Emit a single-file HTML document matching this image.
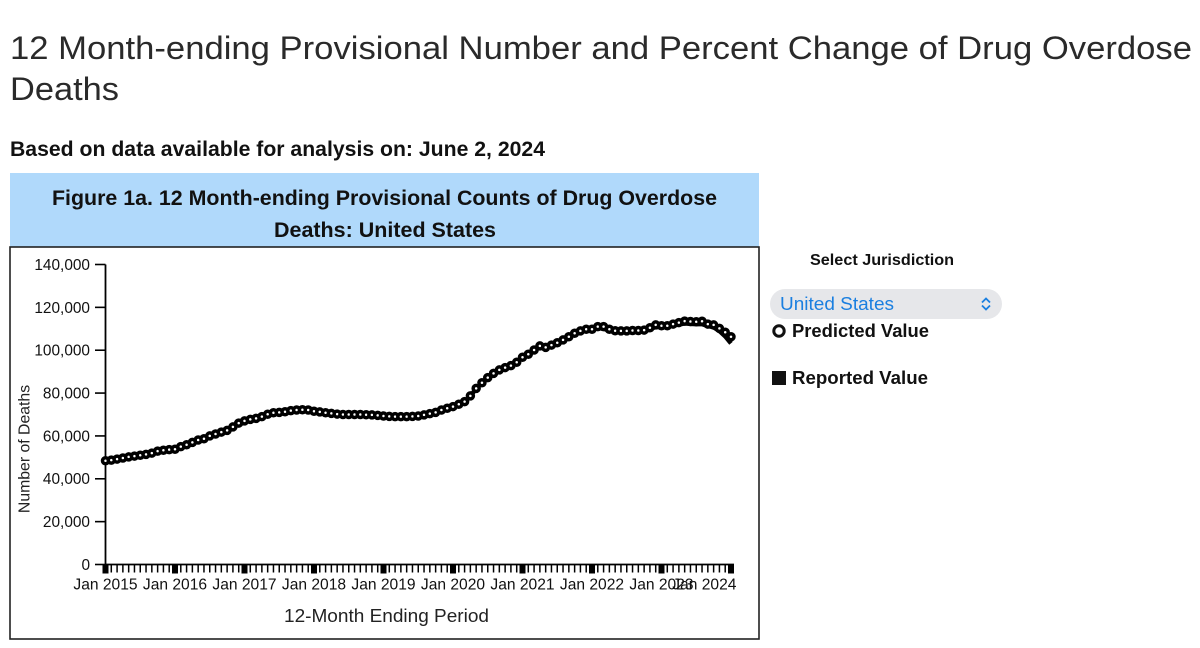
<!DOCTYPE html>
<html lang="en">
<head>
<meta charset="utf-8">
<title>12 Month-ending Provisional Number and Percent Change of Drug Overdose Deaths</title>
<style>
html,body{margin:0;padding:0;background:#fff;width:1200px;height:648px;overflow:hidden}
svg{display:block}
text{font-family:"Liberation Sans",sans-serif}
</style>
</head>
<body>
<svg id="page" width="1200" height="648" viewBox="0 0 1200 648">
  <text x="10" y="59" font-size="32" fill="#2a2a2a" textLength="1182" lengthAdjust="spacingAndGlyphs">12 Month-ending Provisional Number and Percent Change of Drug Overdose</text>
  <text x="10" y="100" font-size="32" fill="#2a2a2a" textLength="109" lengthAdjust="spacingAndGlyphs">Deaths</text>
  <text x="10" y="156" font-size="21" font-weight="700" fill="#111" textLength="535" lengthAdjust="spacingAndGlyphs">Based on data available for analysis on: June 2, 2024</text>

  <rect x="10" y="173" width="749" height="74" fill="#b0d9fb"/>
  <text x="52" y="205" font-size="21" font-weight="700" fill="#111" textLength="665" lengthAdjust="spacingAndGlyphs">Figure 1a. 12 Month-ending Provisional Counts of Drug Overdose</text>
  <text x="274" y="237" font-size="21" font-weight="700" fill="#111" textLength="222" lengthAdjust="spacingAndGlyphs">Deaths: United States</text>

  <rect x="10" y="247" width="749" height="392" fill="#fff" stroke="#222" stroke-width="1.6"/>

  <g id="chart"></g>

  <text transform="translate(29.5,449) rotate(-90)" text-anchor="middle" font-size="15.8" fill="#222">Number of Deaths</text>
  <text x="284" y="622" font-size="18" fill="#222" textLength="205" lengthAdjust="spacingAndGlyphs">12-Month Ending Period</text>

  <text x="810" y="265" font-size="16" font-weight="700" fill="#111" textLength="144" lengthAdjust="spacingAndGlyphs">Select Jurisdiction</text>
  <g>
    <rect x="770" y="289" width="232" height="30" rx="15" fill="#e6e7ea"/>
    <text x="780" y="310" font-size="18" fill="#1a7fe0" textLength="114" lengthAdjust="spacingAndGlyphs">United States</text>
    <path d="M982 302.5 L986 298.5 L990 302.5 M982 305.5 L986 309.5 L990 305.5" fill="none" stroke="#1a7fe0" stroke-width="1.8"/>
  </g>

  <circle cx="779" cy="331" r="5.2" fill="#fff" stroke="#111" stroke-width="3"/>
  <text x="792" y="337" font-size="18" font-weight="700" fill="#111" textLength="137" lengthAdjust="spacingAndGlyphs">Predicted Value</text>
  <rect x="772" y="371" width="14" height="14" fill="#111"/>
  <text x="792" y="384" font-size="18" font-weight="700" fill="#111" textLength="136" lengthAdjust="spacingAndGlyphs">Reported Value</text>
</svg>

<script>
const predictedValues = [
  48400,48700,49200,49700,50200,50600,51000,51400,52000,52900,53300,53600,
  53800,55000,55900,57000,58100,58700,60000,60900,61800,62600,64200,66000,
  67000,67700,68200,69000,70100,70800,71000,71300,71800,72100,72200,72100,
  71500,71200,70800,70500,70200,70000,70000,70000,70000,69900,69800,69600,
  69300,69100,69000,69000,69000,69100,69300,69800,70400,71000,72100,72900,
  73700,74800,76000,78700,82200,84800,87200,89200,90800,91900,92800,94400,
  96700,98100,100100,102000,101300,102400,103500,104800,106300,107900,109000,109800,
  109800,111000,111000,109800,109100,109000,109000,109200,109200,109400,110500,111800,
  111400,111400,112200,112900,113600,113400,113300,113500,112200,111800,110200,108400,
  106300
];
const reportedValues = [
  48300,48600,49100,49600,50100,50500,50900,51300,51900,52800,53200,53500,
  53700,54900,55800,56900,58000,58600,59900,60800,61700,62500,64100,65900,
  66900,67600,68100,68900,70000,70700,70900,71200,71700,72000,72100,72000,
  71400,71100,70700,70400,70100,69900,69900,69900,69900,69800,69700,69500,
  69200,69000,68900,68900,68900,69000,69200,69700,70300,70900,72000,72800,
  73600,74700,75900,78600,82100,84700,87100,89100,90700,91800,92700,94300,
  96600,98000,100000,101900,101200,102300,103400,104700,106200,107800,108900,109700,
  109600,110300,110100,109000,108500,108300,108300,108400,108500,108700,109700,110900,
  110700,110900,111500,112000,112500,112300,112200,112200,111300,110700,109000,106500,
  103200
];
const yTickValues = [0,20000,40000,60000,80000,100000,120000,140000];
const yTickLabels = ["0","20,000","40,000","60,000","80,000","100,000","120,000","140,000"];
const xTickLabels = ["Jan 2015","Jan 2016","Jan 2017","Jan 2018","Jan 2019","Jan 2020","Jan 2021","Jan 2022","Jan 2023","Jan 2024"];
const xTickLabelMonths = [0,12,24,36,48,60,72,84,96,103.4];
const majorTickMonths = [0,12,24,36,48,60,72,84,96,108];

const svgNS = "http://www.w3.org/2000/svg";
const chart = document.getElementById("chart");
const monthCount = predictedValues.length;
const xScale = m => 105.5 + m * (731 - 105.5) / (monthCount - 1);
const yScale = v => 564.5 - v * (300 / 140000);

function make(tag, attrs) {
  const el = document.createElementNS(svgNS, tag);
  for (const k in attrs) el.setAttribute(k, attrs[k]);
  chart.appendChild(el);
  return el;
}

// y axis
const yAxisLine = make("line", {x1:105.5, x2:105.5, y1:yScale(140000), y2:yScale(0), stroke:"#000", "stroke-width":1.8});


yTickValues.forEach((v, i) => {
  const tick = make("line", {x1:95, x2:105.5, y1:yScale(v), y2:yScale(v), stroke:"#000", "stroke-width":1.6});
  
  
  const label = make("text", {x:90, y:yScale(v) + 5.4, "text-anchor":"end", "font-size":15.4, fill:"#111"});
  
  
  label.textContent = yTickLabels[i];
});

// x axis
const xAxisLine = make("line", {x1:105.5, x2:xScale(monthCount - 1) + 3, y1:yScale(0), y2:yScale(0), stroke:"#000", "stroke-width":1.8});


predictedValues.forEach((_, m) => {
  const tick = make("line", {x1:xScale(m), x2:xScale(m), y1:yScale(0), y2:yScale(0) + 8, stroke:"#000", "stroke-width":1.5});
  
  
});
majorTickMonths.forEach(m => {
  const tick = make("rect", {x:xScale(m) - 3, y:yScale(0), width:6, height:9, fill:"#000"});
  
  
});
xTickLabels.forEach((t, i) => {
  const label = make("text", {x:xScale(xTickLabelMonths[i]), y:589.5, "text-anchor":"middle", "font-size":15.6, fill:"#111"});
  
  
  label.textContent = t;
});

// reported series line
const reportedPath = reportedValues.map((v, m) => (m ? "L" : "M") + xScale(m).toFixed(2) + " " + yScale(v).toFixed(2)).join(" ");
const reportedLine = make("path", {d:reportedPath, fill:"none", stroke:"#000", "stroke-width":4.5});



// predicted series points
predictedValues.forEach((v, m) => {
  const dot = make("circle", {cx:xScale(m), cy:yScale(v), r:3, fill:"#fff", stroke:"#000", "stroke-width":3.5});
  
  
});
</script>
</body>
</html>
